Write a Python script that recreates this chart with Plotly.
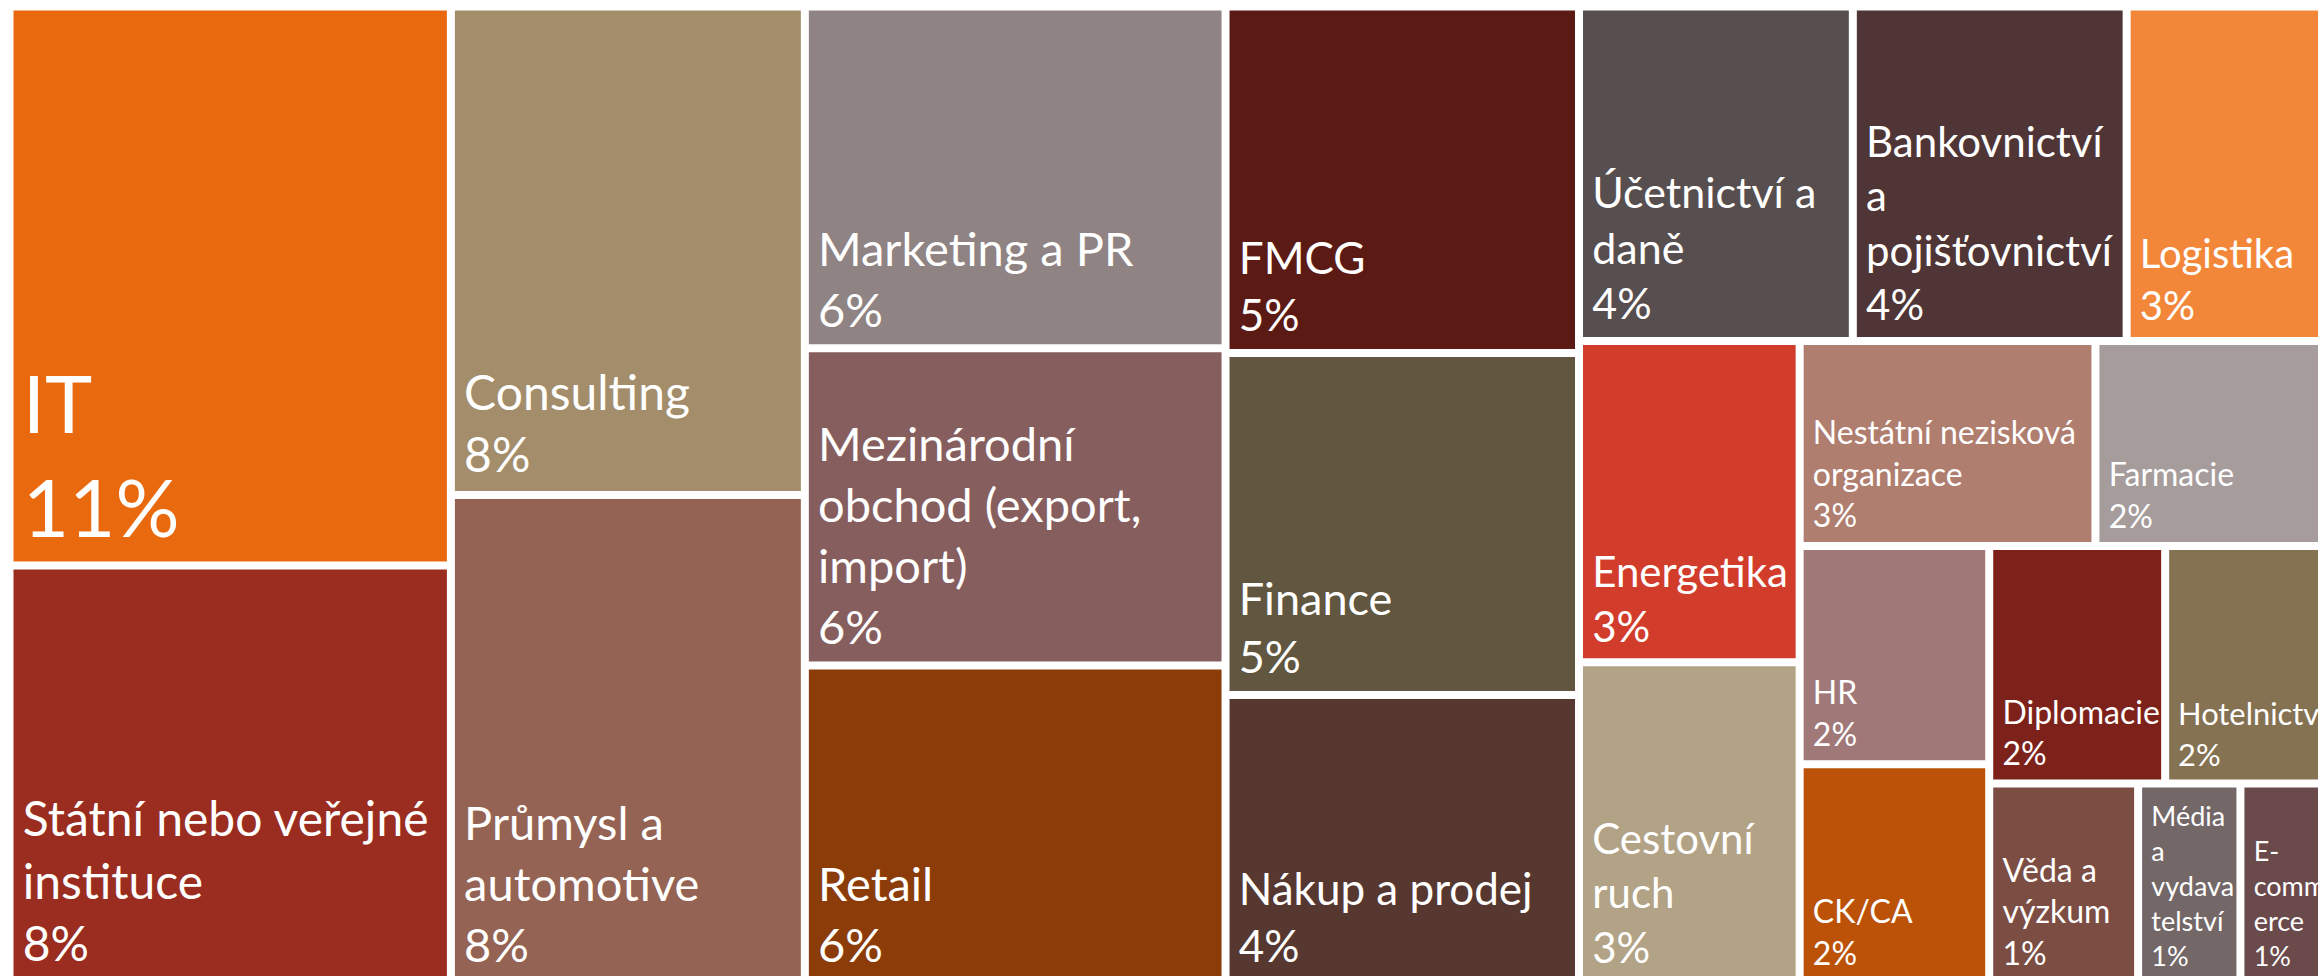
import plotly.graph_objects as go

# ---- data (share of respondents, %) ----
categories = [
    "IT", "Státní nebo veřejné instituce", "Consulting", "Průmysl a automotive",
    "Marketing a PR", "Mezinárodní obchod (export, import)", "Retail",
    "FMCG", "Finance", "Nákup a prodej",
    "Účetnictví a daně", "Bankovnictví a pojišťovnictví", "Logistika",
    "Energetika", "Cestovní ruch",
    "Nestátní nezisková organizace", "Farmacie",
    "HR", "CK/CA",
    "Diplomacie", "Hotelnictví",
    "Věda a výzkum", "Média a vydavatelství", "E-commerce",
]
shares = [
    10.86, 8.12, 7.61, 7.61,
    6.33, 5.87, 5.89,
    5.39, 5.32, 4.49,
    4.03, 4.03, 3.03,
    3.12, 3.12,
    2.67, 2.14,
    1.82, 1.83,
    1.84, 1.75,
    1.31, 0.90, 0.81,
]
# labels as wrapped in the original tiles
wrapped_labels = [
    "IT", "Státní nebo veřejné<br>instituce", "Consulting", "Průmysl a<br>automotive",
    "Marketing a PR", "Mezinárodní<br>obchod (export,<br>import)", "Retail",
    "FMCG", "Finance", "Nákup a prodej",
    "Účetnictví a<br>daně", "Bankovnictví<br>a<br>pojišťovnictví", "Logistika",
    "Energetika", "Cestovní<br>ruch",
    "Nestátní nezisková<br>organizace", "Farmacie",
    "HR", "CK/CA",
    "Diplomacie", "Hotelnictví",
    "Věda a<br>výzkum", "Média<br>a<br>vydava<br>telství", "E-<br>comm<br>erce",
]

# ---- tile arrangement (layout groups, slice/dice alternating) ----
layout_groups = [
    ("root", ""), ("c1", "root"), ("c2", "root"), ("c3", "root"), ("c4", "root"),
    ("rest", "root"), ("r1", "rest"), ("rest2", "rest"), ("r2c", "rest2"),
    ("rest3", "rest2"), ("r3r", "rest3"), ("rest4", "rest3"), ("r4c", "rest4"),
    ("rest5", "rest4"), ("r5a", "rest5"), ("r5b", "rest5"),
]
group_of = [
    "c1", "c1", "c2", "c2",
    "c3", "c3", "c3",
    "c4", "c4", "c4",
    "r1", "r1", "r1",
    "r2c", "r2c",
    "r3r", "r3r",
    "r4c", "r4c",
    "r5a", "r5a",
    "r5b", "r5b", "r5b",
]

# ---- styles ----
tile_colors = [
    "#E8690E", "#9A2D1F", "#A38D6B", "#946353",
    "#908383", "#865E5E", "#8B3C09",
    "#5C1A14", "#615640", "#563830",
    "#574E4F", "#503536", "#F38739",
    "#D23C2B", "#B2A386",
    "#AF7E6F", "#A59C9B",
    "#A07877", "#BB5208",
    "#7D221B", "#857252",
    "#7B4D43", "#736767", "#6B4A4C",
]
font_sizes = [
    80, 48, 48, 47,
    47, 47, 47,
    44, 45, 44,
    43, 42, 40,
    42, 42,
    32, 32,
    32, 32,
    32, 32,
    32, 27, 27,
]

INDENT = '<span style="font-size:17px">\u00a0\u00a0</span>'


def styled(label, pct, size):
    lines = (label + f"<br>{pct}%").split("<br>")
    lines = [INDENT + ln for ln in lines]
    # a wider bottom margin under the last line, as in the original
    lines[-1] += f'<span style="font-size:{size + 35}px">\u00a0</span>'
    return "<br>".join(lines)


total = sum(shares)
ids, parents, labels, values, texts, colors, sizes = [], [], [], [], [], [], []
for gid, gpar in layout_groups:
    ids.append(gid); parents.append(gpar); labels.append(gid); values.append(0)
    texts.append(""); colors.append("white"); sizes.append(10)
for i, name in enumerate(categories):
    pct = round(shares[i] / total * 100)
    ids.append(name); parents.append(group_of[i]); labels.append(name)
    values.append(shares[i]); texts.append(styled(wrapped_labels[i], pct, font_sizes[i]))
    colors.append(tile_colors[i]); sizes.append(font_sizes[i])

fig = go.Figure(go.Treemap(
    ids=ids, parents=parents, labels=labels, values=values,
    branchvalues="remainder", sort=False,
    text=texts, textinfo="text", textposition="bottom left",
    textfont=dict(family="Lato", color="white", size=sizes),
    insidetextfont=dict(family="Lato", color="white", size=sizes),
    marker=dict(colors=colors, line=dict(color="white", width=5),
                pad=dict(t=0, l=0, r=0, b=0)),
    tiling=dict(packing="slice-dice"),
    pathbar=dict(visible=False),
    hoverinfo="label+value",
))
fig.update_layout(
    width=2331, height=982,
    margin=dict(l=10.5, t=7.5, r=0, b=0),
    paper_bgcolor="white",
    font=dict(family="Lato"),
)
fig.write_html(
    "out.html",
    config={"displayModeBar": False},
    post_script="document.documentElement.style.overflow='hidden';"
                "document.body.style.overflow='hidden';document.body.style.margin='0';",
)
